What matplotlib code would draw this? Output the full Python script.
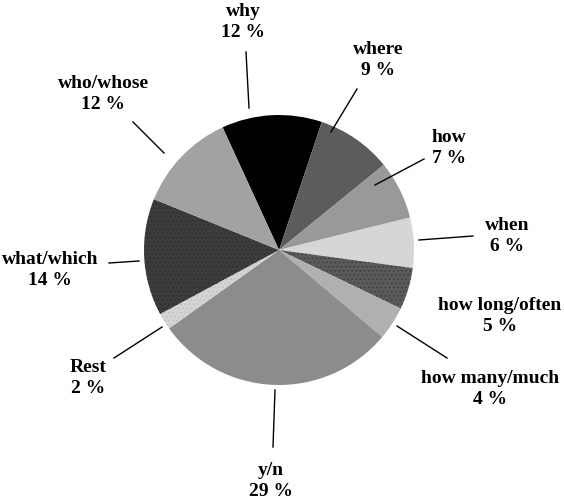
import numpy as np
import matplotlib
matplotlib.use("Agg")
import matplotlib.pyplot as plt

# question types, clockwise from the top
labels = ["why", "where", "how", "when", "how long/often", "how many/much",
          "y/n", "Rest", "what/which", "who/whose"]
shares = [12, 9, 7, 6, 5, 4, 29, 2, 14, 12]

colors = ["#000000", "#5c5c5c", "#999999", "#d6d6d6", "#5a5a5a", "#b0b0b0",
          "#8c8c8c", "#d4d4d4", "#3c3c3c", "#a2a2a2"]
hatches = [None, None, None, None, "....", None, None, "....", "....", None]
dotcols = ["none", "none", "none", "none", "#3a3a3a", "none",
           "none", "#bcbcbc", "#2c2c2c", "none"]

W, H = 564, 500
cx, cy, R = 279, 250, 135

# label centres and leader lines in pixel coords (None = no leader)
txtpos = [(243, 22), (378, 60), (449, 148), (507, 236), (500, 316),
          (490, 389), (271, 481), (88, 378), (50, 270), (103, 94)]
leaders = [((249, 108), (246, 52)), ((331, 132), (357, 89)),
           ((375, 185), (424, 159)), ((419, 240), (473, 236)), None,
           ((397, 326), (447, 358)), ((275, 390), (273, 447)),
           ((162, 327), (114, 358)), ((139, 261), (109, 263)),
           ((164, 153), (133, 122))]

def px( p ) :
    return ( ( p[0] - cx ) / R, ( cy - p[1] ) / R )

plt.rcParams['hatch.linewidth'] = 0.5

fig = plt.figure( figsize=(W / 100, H / 100), dpi=100 )
ax = fig.add_axes( [0, 0, 1, 1] )

wedges, _ = ax.pie( shares, colors=colors, startangle=114.7, counterclock=False,
                    radius=1, center=(0, 0), frame=True,
                    wedgeprops=dict( linewidth=0 ) )
for w, h, dc in zip( wedges, hatches, dotcols ) :
    if h is not None :
        w.set_hatch( h )
        w.set_edgecolor( dc )
        w.set_linewidth( 0 )

for lab, v, pos, ld in zip( labels, shares, txtpos, leaders ) :
    x, y = px( pos )
    ax.text( x, y, "%s\n%d %%" % ( lab, v ), ha="center", va="center",
             family="Liberation Serif", fontweight="bold", fontsize=14,
             linespacing=1.35, color="black" )
    if ld is not None :
        a, b = px( ld[0] ), px( ld[1] )
        ax.plot( [a[0], b[0]], [a[1], b[1]], color="black", lw=1.0 )

ax.set_xlim( -cx / R, ( W - cx ) / R )
ax.set_ylim( -( H - cy ) / R, cy / R )
ax.set_aspect( "auto" )
ax.axis( "off" )

fig.savefig( "out.png", dpi=100, facecolor="white" )
